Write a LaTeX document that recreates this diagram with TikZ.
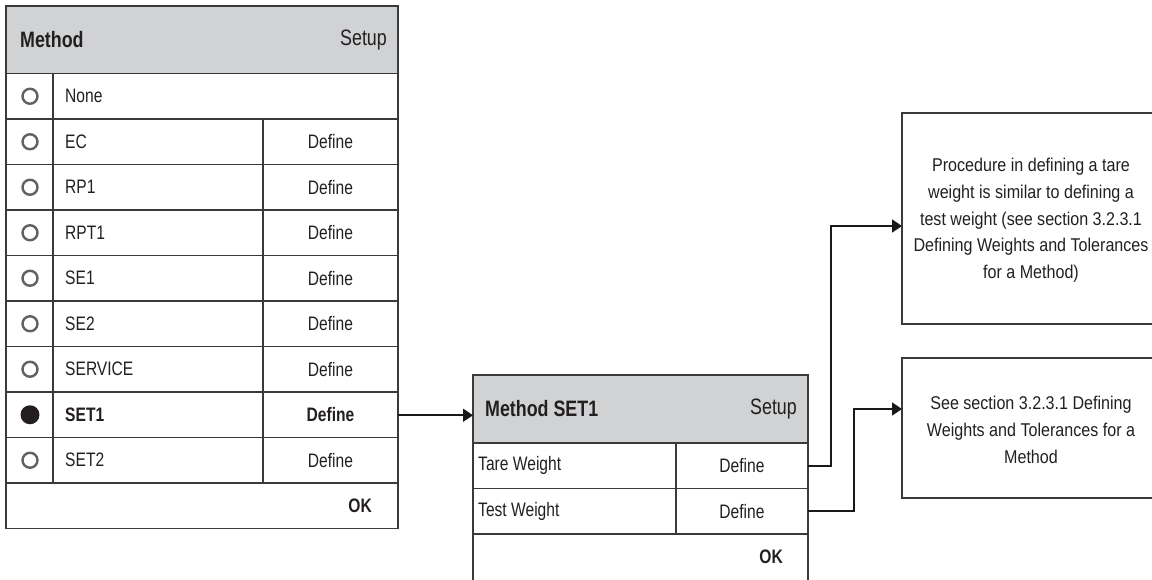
\documentclass[tikz,border=0pt]{standalone}
\usepackage{fontspec}
\setmainfont{Liberation Sans}[FakeStretch=0.87]
\newfontfamily\condfont{Liberation Sans}[FakeStretch=0.8]
\usetikzlibrary{arrows.meta}
\definecolor{hdr}{HTML}{D1D2D4}
\definecolor{linec}{HTML}{3A3A3A}
\definecolor{txt}{HTML}{231F20}
\tikzset{
  cell/.style={draw=linec, line width=1.3pt, rectangle, anchor=north west, inner sep=0pt, outer sep=0pt},
  hdrcell/.style={cell, fill=hdr},
  htext/.style={text=txt, inner sep=0pt, font=\condfont\fontsize{22.3}{26}\selectfont},
  rtext/.style={text=txt, inner sep=0pt, font=\condfont\fontsize{19.5}{23}\selectfont},
  btext/.style={text=txt, inner sep=0pt, align=center, font=\fontsize{18.5}{26.7}\selectfont},
  radio/.style={circle, draw=black!62, line width=2.4pt, fill=white, minimum size=15pt, inner sep=0pt},
  radiosel/.style={circle, fill=txt, minimum size=19pt, inner sep=0pt},
  conn/.style={draw=black!90, line width=1.8pt, -{Triangle[length=10pt,width=13pt]}}
}
\begin{document}
\begin{tikzpicture}[x=1pt, y=-1pt]
\useasboundingbox (0,0) rectangle (1152,579);
\clip (0,0) rectangle (1152,579);

% ---------- panel 1 ----------
\node[hdrcell, minimum width=392pt, minimum height=67.5pt] (h1) at (6,6) {};
\node[htext, anchor=west] (h1t) at ([xshift=14pt]h1.west) {\bfseries Method};
\node[htext, anchor=east] (h1s) at ([xshift=-11pt]h1.east) {Setup};

% None row
\node[cell, minimum width=47pt, minimum height=45.5pt] (r0) at (6,73.5) {};
\node[cell, minimum width=345pt, minimum height=45.5pt] (l0) at (53,73.5) {};
% rows with Define
\foreach \i in {1,...,8}{
  \node[cell, minimum width=47pt, minimum height=45.5pt] (r\i) at (6,73.5+45.5*\i) {};
  \node[cell, minimum width=210pt, minimum height=45.5pt] (l\i) at (53,73.5+45.5*\i) {};
  \node[cell, minimum width=135pt, minimum height=45.5pt] (d\i) at (263,73.5+45.5*\i) {};
}
\node[cell, minimum width=392pt, minimum height=45.5pt] (ok1) at (6,483) {};

\foreach \i in {0,1,2,3,4,5,6,8}{
  \node[radio] (b\i) at ([xshift=0.5pt]r\i.center) {};
}
\node[radiosel] (b7) at ([xshift=0.5pt]r7.center) {};

\node[rtext, anchor=west] (t0) at ([xshift=12pt]l0.west) {None};
\node[rtext, anchor=west] (t1) at ([xshift=12pt]l1.west) {EC};
\node[rtext, anchor=west] (t2) at ([xshift=12pt]l2.west) {RP1};
\node[rtext, anchor=west] (t3) at ([xshift=12pt]l3.west) {RPT1};
\node[rtext, anchor=west] (t4) at ([xshift=12pt]l4.west) {SE1};
\node[rtext, anchor=west] (t5) at ([xshift=12pt]l5.west) {SE2};
\node[rtext, anchor=west] (t6) at ([xshift=12pt]l6.west) {SERVICE};
\node[rtext, anchor=west] (t7) at ([xshift=12pt]l7.west) {\bfseries SET1};
\node[rtext, anchor=west] (t8) at ([xshift=12pt]l8.west) {SET2};
\foreach \i in {1,2,3,4,5,6,8}{
  \node[rtext] (dt\i) at (d\i.center) {Define};
}
\node[rtext] (dt7) at (d7.center) {\bfseries Define};
\node[rtext, anchor=east] (ok1t) at ([xshift=-26pt]ok1.east) {\bfseries OK};

% ---------- panel 2 ----------
\node[hdrcell, minimum width=335pt, minimum height=68pt] (h2) at (473,375) {};
\node[htext, anchor=west] (h2t) at ([xshift=12pt]h2.west) {\bfseries Method SET1};
\node[htext, anchor=east] (h2s) at ([xshift=-11pt]h2.east) {Setup};
\node[cell, minimum width=203pt, minimum height=45.5pt] (tl) at (473,443) {};
\node[cell, minimum width=132pt, minimum height=45.5pt] (td) at (676,443) {};
\node[cell, minimum width=203pt, minimum height=45.5pt] (sl) at (473,488.5) {};
\node[cell, minimum width=132pt, minimum height=45.5pt] (sd) at (676,488.5) {};
\node[cell, minimum width=335pt, minimum height=60pt] (ok2) at (473,534) {};
\node[rtext, anchor=west] (tlt) at ([xshift=5pt]tl.west) {Tare Weight};
\node[rtext] (tdt) at (td.center) {Define};
\node[rtext, anchor=west] (slt) at ([xshift=5pt]sl.west) {Test Weight};
\node[rtext] (sdt) at (sd.center) {Define};
\node[rtext, anchor=east] (ok2t) at ([xshift=-25pt,yshift=7.5pt]ok2.east) {\bfseries OK};

% ---------- info boxes ----------
\node[cell, minimum width=258pt, minimum height=211pt] (box1) at (902,113) {};
\node[btext] (box1t) at ([yshift=-2pt]box1.center) {Procedure in defining a tare\\weight is similar to defining a\\test weight (see section 3.2.3.1\\Defining Weights and Tolerances\\for a Method)};
\node[cell, minimum width=258pt, minimum height=140pt] (box2) at (902,358) {};
\node[btext] (box2t) at ([yshift=-2pt]box2.center) {See section 3.2.3.1 Defining\\Weights and Tolerances for a\\Method};

% ---------- connectors ----------
\coordinate (a1) at ([yshift=-0.5pt]d7.east);
\draw[conn] (a1) -- (a1 -| h2.west);
\coordinate (a2) at ([yshift=-7.5pt]box1.west);
\draw[conn] (td.east) -- ++(23,0) |- (a2);
\coordinate (a3) at ([yshift=19pt]box2.west);
\draw[conn] (sd.east) -- ++(46,0) |- (a3);
\end{tikzpicture}
\end{document}
